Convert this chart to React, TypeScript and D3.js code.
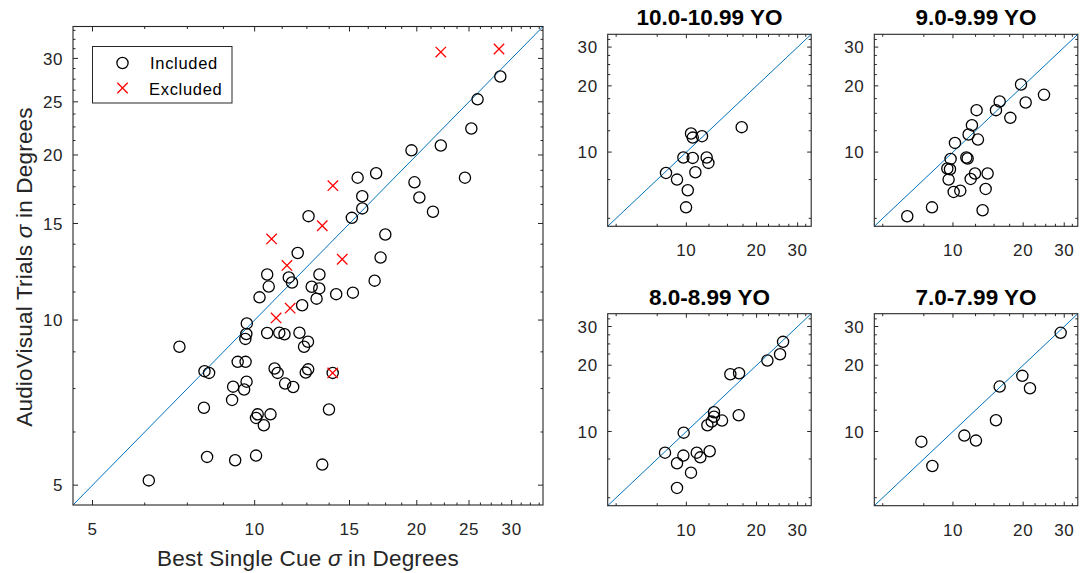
import React from "react";
import * as d3 from "d3";

// shared log axis limits (both axes, every panel)
const limits: [number, number] = [4.6, 34.3];

// main panel: included subjects (best single cue vs audiovisual)
const includedBest = [6.36, 7.25, 8.07, 8.23, 8.05, 8.16, 9.08, 9.12, 9.56, 9.66, 9.2, 9.3, 9.62, 9.61, 9.65, 9.67, 10.06, 10.13, 10.06, 10.4, 10.7, 10.21, 10.55, 10.62, 10.55, 11.11, 11.36, 10.89, 11.03, 11.39, 11.79, 11.57, 11.73, 12.02, 12.11, 12.25, 12.56, 12.35, 12.57, 12.44, 12.59, 12.76, 13.19, 13.18, 13.03, 13.35, 13.74, 13.96, 14.17, 15.22, 15.15, 15.53, 15.84, 15.84, 16.81, 17.48, 17.13, 16.7, 19.55, 19.8, 20.22, 21.43, 22.16, 24.57, 25.25, 25.93, 28.58];
const includedAV = [5.1, 8.94, 8.07, 8.01, 6.92, 5.63, 7.15, 7.56, 7.47, 7.72, 5.55, 8.39, 8.39, 9.24, 9.43, 9.86, 5.66, 6.73, 6.63, 6.43, 6.73, 11.0, 9.47, 11.51, 12.11, 9.48, 9.42, 8.16, 8.01, 7.66, 7.55, 11.96, 11.71, 13.25, 9.48, 10.64, 9.13, 8.94, 8.13, 8.02, 15.47, 11.5, 12.11, 11.42, 10.94, 5.45, 6.87, 8.01, 11.15, 11.22, 15.36, 18.18, 16.82, 15.98, 18.52, 14.32, 13.0, 11.8, 20.39, 17.83, 16.73, 15.76, 20.81, 18.18, 22.35, 25.26, 27.81];

// main panel: excluded subjects
const excludedBest = [10.75, 11.48, 13.35, 13.97, 14.54, 10.96, 11.64, 13.96, 22.16, 28.42];
const excludedAV = [14.06, 12.58, 14.86, 17.58, 12.91, 10.09, 10.51, 8.01, 30.81, 31.21];

// age groups
const age10Best = [17.27, 10.47, 10.65, 11.67, 9.71, 10.65, 12.22, 12.43, 10.93, 8.18, 9.12, 10.14, 9.97];
const age10AV = [12.98, 12.15, 11.64, 11.81, 9.45, 9.41, 9.45, 8.93, 8.1, 8.04, 7.5, 6.71, 5.61];
const age9Best = [19.58, 24.57, 20.5, 15.86, 15.29, 17.62, 12.63, 12.06, 11.67, 12.8, 10.2, 9.77, 11.41, 11.56, 9.46, 9.71, 9.58, 12.43, 14.08, 11.91, 10.07, 10.75, 13.81, 8.13, 13.4, 6.37];
const age9AV = [20.29, 18.21, 16.8, 16.98, 15.51, 14.31, 15.51, 13.25, 12.02, 11.4, 11.01, 9.31, 9.45, 9.35, 8.42, 8.36, 7.5, 7.99, 7.99, 7.55, 6.59, 6.68, 6.8, 5.61, 5.44, 5.11];
const age8Best = [25.98, 25.22, 22.26, 15.44, 16.83, 16.77, 13.14, 13.14, 14.22, 12.84, 12.31, 9.74, 8.1, 9.71, 11.08, 11.48, 12.59, 9.12, 10.47, 9.12];
const age8AV = [25.55, 22.45, 21.01, 18.21, 18.4, 11.85, 12.23, 11.68, 11.21, 11.09, 10.67, 9.88, 8.01, 7.77, 8.01, 7.63, 8.13, 7.17, 6.5, 5.54];
const age7Best = [28.96, 19.84, 21.39, 15.86, 15.29, 11.19, 12.55, 7.32, 8.16];
const age7AV = [28.08, 17.9, 15.72, 16.0, 11.25, 9.58, 9.09, 8.99, 6.97];

const panelTitles = ["10.0-10.99 YO", "9.0-9.99 YO", "8.0-8.99 YO", "7.0-7.99 YO"];

// tick values
const mainTicks = [5, 10, 15, 20, 25, 30];
const mainMinor = [6.25, 7.5, 8.75, 11.25, 12.5, 13.75, 16.25, 17.5, 18.75, 21.25, 22.5, 23.75, 26.25, 27.5, 28.75, 31.25, 32.5, 33.75];
const panelTicks = [10, 20, 30];
const panelMinor = [5, 7.5, 12.5, 15, 17.5, 22.5, 25, 27.5, 32.5];

const FONT = "'Liberation Sans', Arial, Helvetica, sans-serif";
const INK = "#262626";
const BLUE = "#0072BD";

type Scale = d3.ScaleLogarithmic<number, number>;

function Circles({ xs, ys, x, y }: { xs: number[]; ys: number[]; x: Scale; y: Scale }) {
  return (
    <g fill="none" stroke="#000" strokeWidth={1.3}>
      {xs.map((v, i) => (
        <circle key={i} cx={x(v)} cy={y(ys[i])} r={5.6} />
      ))}
    </g>
  );
}

function Crosses({ xs, ys, x, y, s = 5.2 }: { xs: number[]; ys: number[]; x: Scale; y: Scale; s?: number }) {
  return (
    <g stroke="#FF0000" strokeWidth={1.3}>
      {xs.map((v, i) => {
        const cx = x(v), cy = y(ys[i]);
        return (
          <path key={i} d={`M${cx - s},${cy - s}L${cx + s},${cy + s}M${cx - s},${cy + s}L${cx + s},${cy - s}`} />
        );
      })}
    </g>
  );
}

function Frame({ x, y, majors, minors, majorLen, minorLen }: {
  x: Scale; y: Scale; majors: number[]; minors: number[]; majorLen: number; minorLen: number;
}) {
  const [x0, x1] = x.range();
  const [y0, y1] = y.range(); // y0 bottom, y1 top
  const ticks: string[] = [];
  const add = (vals: number[], len: number) => {
    vals.forEach((v) => {
      const px = x(v), py = y(v);
      ticks.push(`M${px},${y0}V${y0 - len}M${px},${y1}V${y1 + len}`);
      ticks.push(`M${x0},${py}H${x0 + len}M${x1},${py}H${x1 - len}`);
    });
  };
  add(majors, majorLen);
  add(minors, minorLen);
  return (
    <g>
      <path d={ticks.join("")} stroke={INK} strokeWidth={1} fill="none" />
      <rect x={x0} y={y1} width={x1 - x0} height={y0 - y1} fill="none" stroke={INK} strokeWidth={1.1} />
      <g fontFamily={FONT} fontSize={17} fill={INK} letterSpacing={0.6}>
        {majors.map((v) => (
          <text key={"x" + v} x={x(v)} y={y0 + 30} textAnchor="middle">{v}</text>
        ))}
        {majors.map((v) => (
          <text key={"y" + v} x={x0 - 10} y={y(v)} dy="0.36em" textAnchor="end">{v}</text>
        ))}
      </g>
    </g>
  );
}

function Diagonal({ x, y }: { x: Scale; y: Scale }) {
  const line = d3.line<number>().x((d) => x(d)).y((d) => y(d));
  return <path d={line(limits) ?? ""} stroke={BLUE} strokeWidth={1} fill="none" />;
}

function Panel({ left, top, title, xs, ys }: { left: number; top: number; title: string; xs: number[]; ys: number[] }) {
  const w = 203.5, h = 192;
  const x = d3.scaleLog().domain(limits).range([left, left + w]);
  const y = d3.scaleLog().domain(limits).range([top + h, top]);
  return (
    <g>
      <Diagonal x={x} y={y} />
      <Circles xs={xs} ys={ys} x={x} y={y} />
      <Frame x={x} y={y} majors={panelTicks} minors={panelMinor} majorLen={4} minorLen={2.5} />
      <text x={left + w / 2} y={top - 9} textAnchor="middle" fontFamily={FONT} fontWeight="bold" fontSize={22.5} fill="#000">
        {title}
      </text>
    </g>
  );
}

export default function App() {
  const x = d3.scaleLog().domain(limits).range([73, 543]);
  const y = d3.scaleLog().domain(limits).range([505, 26.5]);

  const panels = [
    { left: 607.7, top: 34.3, xs: age10Best, ys: age10AV },
    { left: 874.3, top: 34.3, xs: age9Best, ys: age9AV },
    { left: 607.7, top: 313.7, xs: age8Best, ys: age8AV },
    { left: 874.3, top: 313.7, xs: age7Best, ys: age7AV },
  ];

  return (
    <svg width={1086} height={573} style={{ position: "fixed", left: 0, top: 0, background: "#fff" }}>
      <rect width={1086} height={573} fill="#fff" />
      <Diagonal x={x} y={y} />
      <Circles xs={includedBest} ys={includedAV} x={x} y={y} />
      <Crosses xs={excludedBest} ys={excludedAV} x={x} y={y} />
      <Frame x={x} y={y} majors={mainTicks} minors={mainMinor} majorLen={5} minorLen={2.5} />

      {/* legend */}
      <g fontFamily={FONT} fontSize={16.5} fill="#000" letterSpacing={0.7}>
        <rect x={92.5} y={46.5} width={139.5} height={56.5} fill="#fff" stroke={INK} strokeWidth={1} />
        <circle cx={122.5} cy={63} r={5.6} fill="none" stroke="#000" strokeWidth={1.3} />
        <path d="M117.3,82.8L127.7,93.2M117.3,93.2L127.7,82.8" stroke="#FF0000" strokeWidth={1.3} />
        <text x={150} y={69}>Included</text>
        <text x={149} y={94.5}>Excluded</text>
      </g>

      {/* axis labels */}
      <text x={308} y={566} textAnchor="middle" fontFamily={FONT} fontSize={22.5} fill={INK} letterSpacing={0.2}>
        Best Single Cue <tspan fontStyle="italic">σ</tspan> in Degrees
      </text>
      <text transform="translate(32,267) rotate(-90)" textAnchor="middle" fontFamily={FONT} fontSize={22.5} fill={INK} letterSpacing={0.2}>
        AudioVisual Trials <tspan fontStyle="italic">σ</tspan> in Degrees
      </text>

      {panels.map((p, i) => (
        <Panel key={i} left={p.left} top={p.top} title={panelTitles[i]} xs={p.xs} ys={p.ys} />
      ))}
    </svg>
  );
}
